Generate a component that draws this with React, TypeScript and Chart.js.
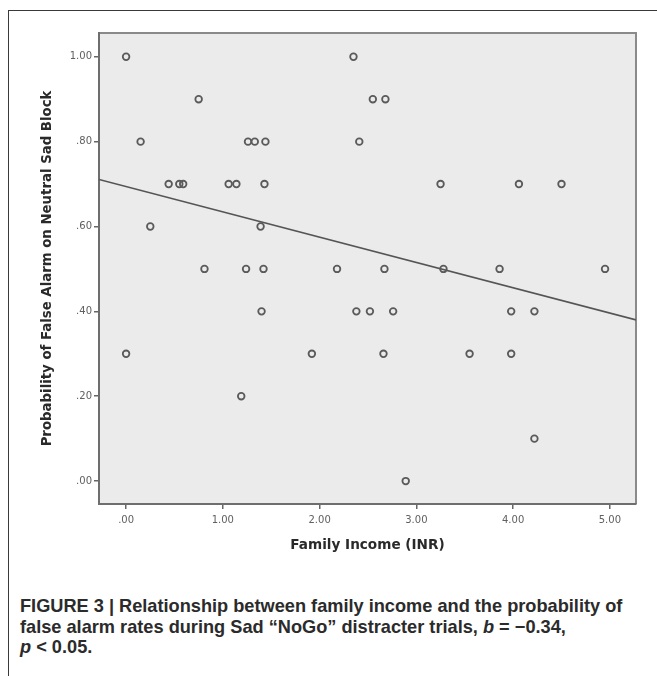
import React, { useEffect, useRef } from "react";
import { Chart, registerables } from "chart.js";

Chart.register(...registerables);

const incomeX = [0.00, 0.75, 0.15, 1.26, 1.33, 1.44, 0.44, 0.55, 0.59, 1.06, 1.14, 1.43, 0.25, 1.39, 2.35, 2.55, 2.68, 2.41, 3.25, 4.06, 4.50, 0.81, 1.24, 1.42, 1.40, 0.00, 1.92, 1.19, 2.18, 2.67, 3.28, 3.86, 4.95, 2.38, 2.52, 2.76, 3.98, 4.22, 2.66, 3.55, 3.98, 4.22, 2.89];
const falseAlarm = [1.00, 0.90, 0.80, 0.80, 0.80, 0.80, 0.70, 0.70, 0.70, 0.70, 0.70, 0.70, 0.60, 0.60, 1.00, 0.90, 0.90, 0.80, 0.70, 0.70, 0.70, 0.50, 0.50, 0.50, 0.40, 0.30, 0.30, 0.20, 0.50, 0.50, 0.50, 0.50, 0.50, 0.40, 0.40, 0.40, 0.40, 0.40, 0.30, 0.30, 0.30, 0.10, 0.00];
const xTicks = [0, 1, 2, 3, 4, 5];
const yTicks = [0, 0.2, 0.4, 0.6, 0.8, 1.0];
const xRange = [-0.28, 5.27];
const yRange = [-0.054, 1.056];
const fitIntercept = 0.694;
const fitSlope = -0.0596;

const fmt = (v: number) => v.toFixed(2).replace(/^0/, "");

const bgPlugin = {
  id: "plotbg",
  beforeDraw(chart: any) {
    const { ctx, chartArea: a } = chart;
    ctx.save();
    ctx.fillStyle = "#ebebeb";
    ctx.fillRect(a.left, a.top, a.right - a.left, a.bottom - a.top);
    ctx.strokeStyle = "#8a8a8a";
    ctx.lineWidth = 2;
    ctx.beginPath();
    ctx.moveTo(a.left, a.top);
    ctx.lineTo(a.right, a.top);
    ctx.lineTo(a.right, a.bottom);
    ctx.stroke();
    ctx.restore();
  },
};

export default function App() {
  const ref = useRef<HTMLCanvasElement>(null);
  useEffect(() => {
    if (!ref.current) return;
    const points = incomeX.map((x, i) => ({ x, y: falseAlarm[i] }));
    const fit = xRange.map((x) => ({ x, y: fitIntercept + fitSlope * x }));
    const chart = new Chart(ref.current, {
      type: "scatter",
      data: {
        datasets: [
          {
            data: points,
            pointRadius: 3.3,
            pointBorderWidth: 1.8,
            borderColor: "#5a5a5a",
            backgroundColor: "rgba(0,0,0,0)",
            pointBackgroundColor: "rgba(0,0,0,0)",
          },
          {
            type: "line",
            data: fit,
            showLine: true,
            borderColor: "#555555",
            borderWidth: 1.6,
            pointRadius: 0,
            fill: false,
          },
        ],
      },
      plugins: [bgPlugin],
      options: {
        responsive: false,
        animation: false,
        devicePixelRatio: 1,
        layout: { padding: { top: 21, right: 21, left: 0, bottom: 0 } },
        plugins: { legend: { display: false }, tooltip: { enabled: false } },
        scales: {
          x: {
            type: "linear",
            min: xRange[0],
            max: xRange[1],
            afterFit: (s: any) => { s.height = 68; },
            afterBuildTicks: (s: any) => { s.ticks = xTicks.map((v) => ({ value: v })); },
            grid: { drawOnChartArea: false, drawTicks: true, tickLength: 5, color: "#666", lineWidth: 1.5 },
            border: { display: true, color: "#6e6e6e", width: 2 },
            ticks: { callback: (v: any) => fmt(Number(v)), color: "#606060", font: { family: "DejaVu Sans", size: 10 }, padding: 5, maxRotation: 0 },
            title: { display: true, text: "Family Income (INR)", color: "#2a2a2a", font: { family: "DejaVu Sans", size: 13.6, weight: "bold" }, padding: { bottom: 18, top: 0 } },
          },
          y: {
            type: "linear",
            min: yRange[0],
            max: yRange[1],
            afterFit: (s: any) => { s.width = 90; },
            afterBuildTicks: (s: any) => { s.ticks = yTicks.map((v) => ({ value: v })); },
            grid: { drawOnChartArea: false, drawTicks: true, tickLength: 5, color: "#666", lineWidth: 1.5 },
            border: { display: true, color: "#6e6e6e", width: 2 },
            ticks: { callback: (v: any) => fmt(Number(v)), color: "#606060", font: { family: "DejaVu Sans", size: 10 }, padding: 2 },
            title: { display: true, text: "Probability of False Alarm on Neutral Sad Block", color: "#2a2a2a", font: { family: "DejaVu Sans", size: 13.3, weight: "bold" }, padding: { top: 31, bottom: 0 } },
          },
        },
      },
    });
    return () => chart.destroy();
  }, []);

  return (
    <div>
      <div style={{ position: "absolute", left: 8, top: 10, right: 0, bottom: 0, borderTop: "1px solid #3a3a3a", borderLeft: "1px solid #3a3a3a" }} />
      <canvas ref={ref} width={648} height={560} style={{ position: "absolute", left: 9, top: 12, width: 648, height: 560 }} />
      <div style={{ position: "absolute", left: 20, top: 596, width: 634, fontFamily: "'Liberation Sans', Arial, sans-serif", fontWeight: "bold", fontSize: 18.2, lineHeight: "20.5px", color: "#2b2b2b" }}>
        FIGURE 3 | Relationship between family income and the probability of<br />
        false alarm rates during Sad “NoGo” distracter trials, <i>b</i> = −0.34,<br />
        <i>p</i> &lt; 0.05.
      </div>
    </div>
  );
}
